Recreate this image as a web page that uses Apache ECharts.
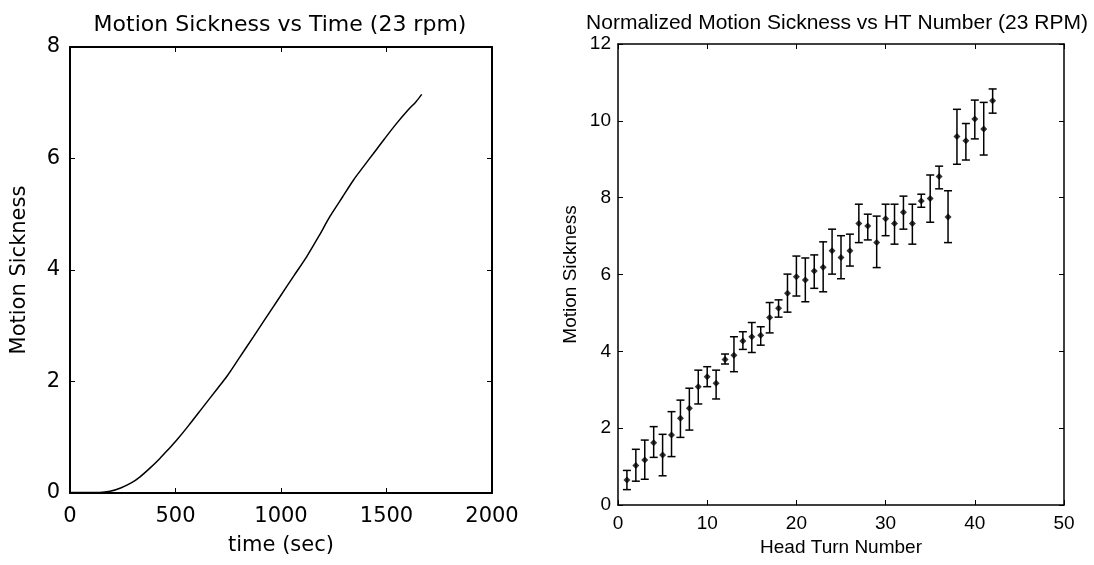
<!DOCTYPE html>
<html>
<head>
<meta charset="utf-8">
<script src="https://cdn.jsdelivr.net/npm/echarts@6/dist/echarts.min.js"></script>
<style>
html,body{margin:0;padding:0;background:#fff;}
#c{width:1094px;height:565px;}
</style>
</head>
<body>
<div id="c"></div>
<script>
// Left chart: Motion Sickness vs Time
const timeSec = [0, 50, 100, 140, 190, 240, 290, 332, 380, 426, 470, 506, 560, 632, 700, 743, 800, 869, 930, 995, 1060, 1122, 1180, 1232, 1290, 1343, 1390, 1438, 1490, 1548, 1600, 1640, 1667];
const sickTime = [0.01, 0.01, 0.01, 0.01, 0.03, 0.09, 0.18, 0.29, 0.45, 0.62, 0.80, 0.95, 1.20, 1.55, 1.88, 2.09, 2.41, 2.80, 3.15, 3.52, 3.89, 4.24, 4.61, 4.96, 5.30, 5.61, 5.85, 6.09, 6.35, 6.63, 6.86, 7.02, 7.15];

// Right chart: Normalized Motion Sickness vs HT Number
const htNum = [1,2,3,4,5,6,7,8,9,10,11,12,13,14,15,16,17,18,19,20,21,22,23,24,25,26,27,28,29,30,31,32,33,34,35,36,37,38,39,40,41,42];
const msMean = [0.65,1.03,1.17,1.62,1.30,1.82,2.26,2.52,3.08,3.34,3.17,3.79,3.90,4.27,4.38,4.42,4.88,5.12,5.51,5.94,5.86,6.09,6.19,6.62,6.44,6.62,7.33,7.26,6.83,7.45,7.33,7.62,7.33,7.91,7.98,8.55,7.50,9.59,9.48,10.05,9.79,10.52];
const msLow = [0.40,0.62,0.67,1.24,0.76,1.26,1.76,1.95,2.63,3.08,2.76,3.67,3.47,4.05,3.97,4.16,4.48,4.89,5.02,5.44,5.29,5.64,5.55,6.01,5.89,6.22,6.83,6.90,6.18,7.01,6.79,7.18,6.79,7.75,7.36,8.23,6.83,8.87,8.98,9.53,9.11,10.20];
const msHigh = [0.90,1.45,1.69,2.04,1.84,2.43,2.73,3.04,3.51,3.60,3.51,3.93,4.38,4.51,4.75,4.64,5.27,5.34,6.01,6.48,6.43,6.51,6.85,7.18,7.01,7.05,7.83,7.57,7.52,7.83,7.83,8.04,7.83,8.09,8.59,8.82,8.18,10.30,9.93,10.54,10.48,10.83];

const leftFont = 'DejaVu Sans';
const rightFont = 'Liberation Sans';

function frameAxis(gridIndex, pos, min, max, interval, showLabel, font, fontSize, lineW, margin) {
  return {
    type: 'value', gridIndex: gridIndex, position: pos, min: min, max: max, interval: interval,
    axisLine: {show: true, onZero: false, lineStyle: {color: '#000', width: lineW}},
    axisTick: {show: true, inside: true, length: 5, lineStyle: {color: '#000', width: 1}},
    axisLabel: {show: showLabel, color: '#000', fontFamily: font, fontSize: fontSize, margin: margin,
                formatter: function (v) { return String(v); }},
    splitLine: {show: false}
  };
}

const chart = echarts.init(document.getElementById('c'), null, {renderer: 'canvas'});

const xL = frameAxis(0, 'bottom', 0, 2000, 500, true, leftFont, 21, 2, 13);
xL.name = 'time (sec)'; xL.nameLocation = 'middle'; xL.nameGap = 42;
xL.nameTextStyle = {color: '#000', fontFamily: leftFont, fontSize: 21};
const xLTop = frameAxis(0, 'top', 0, 2000, 500, false, leftFont, 21, 2, 8);
const yL = frameAxis(0, 'left', 0, 8, 2, true, leftFont, 21, 2, 10);
yL.name = 'Motion Sickness'; yL.nameLocation = 'middle'; yL.nameGap = 40;
yL.nameTextStyle = {color: '#000', fontFamily: leftFont, fontSize: 21};
const yLRight = frameAxis(0, 'right', 0, 8, 2, false, leftFont, 21, 2, 8);

const xR = frameAxis(1, 'bottom', 0, 50, 10, true, rightFont, 19, 1.5, 9);
xR.name = 'Head Turn Number'; xR.nameLocation = 'middle'; xR.nameGap = 33;
xR.nameTextStyle = {color: '#000', fontFamily: rightFont, fontSize: 19};
const xRTop = frameAxis(1, 'top', 0, 50, 10, false, rightFont, 19, 1.5, 8);
const yR = frameAxis(1, 'left', 0, 12, 2, true, rightFont, 19, 1.5, 7);
yR.name = 'Motion Sickness'; yR.nameLocation = 'middle'; yR.nameGap = 38;
yR.nameTextStyle = {color: '#000', fontFamily: rightFont, fontSize: 19};
const yRRight = frameAxis(1, 'right', 0, 12, 2, false, rightFont, 19, 1.5, 8);

const option = {
  backgroundColor: '#fff',
  animation: false,
  title: [
    {text: 'Motion Sickness vs Time (23 rpm)', left: 275, top: 9, textAlign: 'center',
     textStyle: {color: '#000', fontFamily: leftFont, fontSize: 22, fontWeight: 'normal'}},
    {text: 'Normalized Motion Sickness vs HT Number (23 RPM)', left: 832, top: 8, textAlign: 'center',
     textStyle: {color: '#000', fontFamily: rightFont, fontSize: 21, fontWeight: 'normal'}}
  ],
  grid: [
    {left: 70, top: 47, width: 422, height: 446},
    {left: 618, top: 44, width: 446, height: 461}
  ],
  xAxis: [xL, xLTop, xR, xRTop],
  yAxis: [yL, yLRight, yR, yRRight],
  series: [
    {
      type: 'line', xAxisIndex: 0, yAxisIndex: 0, showSymbol: false, symbol: 'none', smooth: 0.3,
      lineStyle: {color: '#000', width: 1.5},
      data: timeSec.map((t, i) => [t, sickTime[i]])
    },
    {
      type: 'custom', xAxisIndex: 2, yAxisIndex: 2,
      data: htNum.map((h, i) => [h, msLow[i], msHigh[i]]),
      renderItem: function (params, api) {
        const x = api.value(0);
        const lo = api.coord([x, api.value(1)]);
        const hi = api.coord([x, api.value(2)]);
        const w = 4;
        const st = {stroke: '#000', lineWidth: 1.5};
        return {
          type: 'group',
          children: [
            {type: 'line', shape: {x1: lo[0], y1: lo[1], x2: hi[0], y2: hi[1]}, style: st},
            {type: 'line', shape: {x1: hi[0] - w, y1: hi[1], x2: hi[0] + w, y2: hi[1]}, style: st},
            {type: 'line', shape: {x1: lo[0] - w, y1: lo[1], x2: lo[0] + w, y2: lo[1]}, style: st}
          ]
        };
      },
      z: 2
    },
    {
      type: 'scatter', xAxisIndex: 2, yAxisIndex: 2, symbol: 'diamond', symbolSize: 7,
      itemStyle: {color: '#000'},
      data: htNum.map((h, i) => [h, msMean[i]]),
      z: 3
    }
  ]
};
chart.setOption(option);
</script>
</body>
</html>
